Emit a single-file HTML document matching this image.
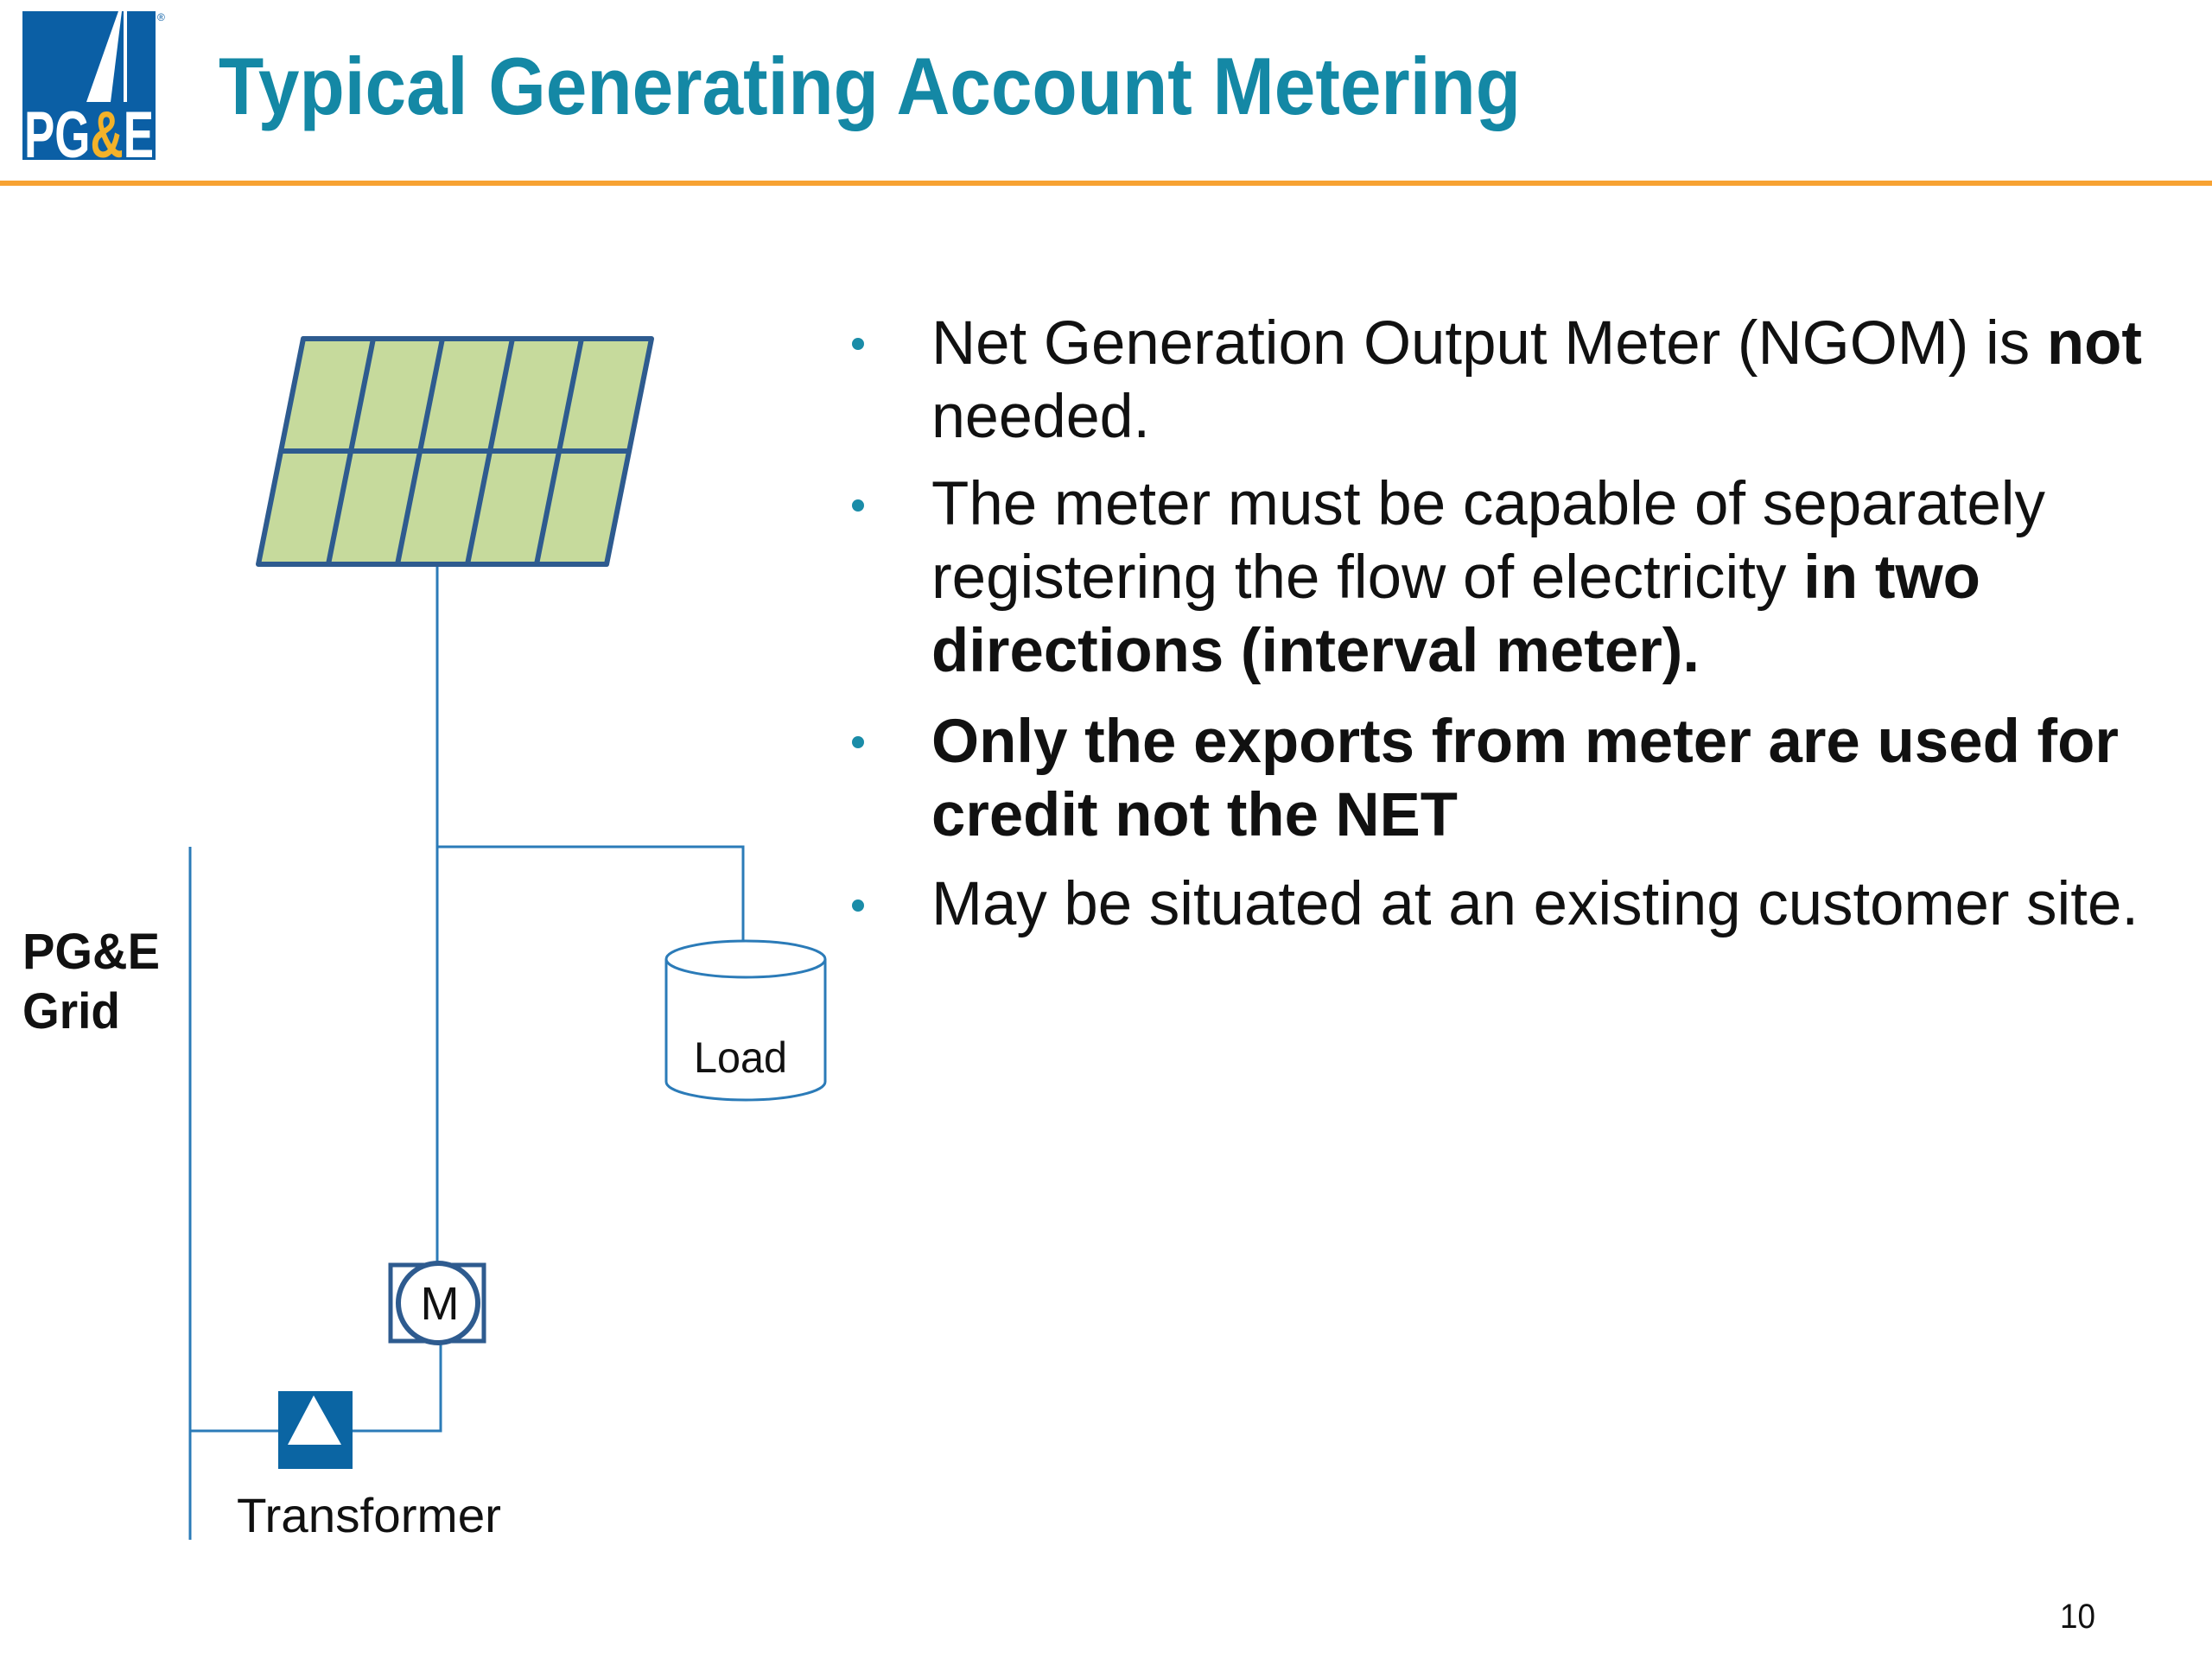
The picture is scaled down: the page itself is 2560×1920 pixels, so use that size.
<!DOCTYPE html>
<html><head><meta charset="utf-8"><style>
html,body{margin:0;padding:0;background:#fff;}
svg{display:block;}
</style></head><body>
<svg width="2560" height="1920" viewBox="0 0 2560 1920" xmlns="http://www.w3.org/2000/svg" font-family="'Liberation Sans', Arial, sans-serif">
<!-- Logo -->
<rect x="26" y="13" width="154" height="172" fill="#0b5fa5"/>
<polygon points="137,13 141,13 128,118 100,118" fill="#fff"/>
<rect x="143" y="13" width="4" height="172" fill="#fff"/>
<rect x="26" y="118" width="154" height="67" fill="#0b5fa5"/>
<text x="28" y="182" font-size="76" font-weight="bold" fill="#fff" textLength="150" lengthAdjust="spacingAndGlyphs">PG<tspan fill="#f3b229">&amp;</tspan>E</text>
<text x="182" y="24" font-size="12" fill="#0b5fa5">®</text>
<!-- Title -->
<text x="253" y="132" font-size="94" font-weight="bold" fill="#1488a5" textLength="1507" lengthAdjust="spacingAndGlyphs">Typical Generating Account Metering</text>
<rect x="0" y="209" width="2560" height="6" fill="#f7a232"/>

<!-- Wires -->
<g stroke="#2b7bb8" stroke-width="3" fill="none">
<line x1="506" y1="653" x2="506" y2="1462"/>
<polyline points="506,980 860,980 860,1089"/>
<line x1="220" y1="980" x2="220" y2="1782"/>
<polyline points="510,1554 510,1656 408,1656"/>
<line x1="220" y1="1656" x2="322" y2="1656"/>
</g>

<!-- Solar panel -->
<g stroke="#2e5b8f" stroke-width="6" fill="#c6da9c" stroke-linejoin="round">
<polygon points="351,392 754,392 702,653 299,653"/>
<line x1="325" y1="522" x2="728" y2="522"/>
<line x1="432" y1="392" x2="380" y2="653"/>
<line x1="512" y1="392" x2="460" y2="653"/>
<line x1="593" y1="392" x2="541" y2="653"/>
<line x1="673" y1="392" x2="621" y2="653"/>
</g>

<!-- Load cylinder -->
<g stroke="#2b7bb8" stroke-width="3" fill="#fff">
<path d="M771,1110 L771,1252 A92,21 0 0 0 955,1252 L955,1110"/>
<ellipse cx="863" cy="1110" rx="92" ry="21"/>
</g>
<text x="803" y="1241" font-size="50" fill="#111" textLength="108" lengthAdjust="spacingAndGlyphs">Load</text>

<!-- Meter -->
<rect x="452" y="1464" width="108" height="88" fill="#fff" stroke="#2e5b8f" stroke-width="5"/>
<circle cx="507" cy="1508" r="46" fill="#fff" stroke="#2e5b8f" stroke-width="6"/>
<text x="509" y="1527" font-size="54" fill="#111" text-anchor="middle">M</text>

<!-- Transformer -->
<rect x="322" y="1610" width="86" height="90" fill="#0b65a3"/>
<polygon points="363,1615 395,1672 333,1672" fill="#fff"/>
<text x="274" y="1773" font-size="56" fill="#111" textLength="306" lengthAdjust="spacingAndGlyphs">Transformer</text>

<!-- Grid label -->
<text x="26" y="1121" font-size="58" font-weight="bold" fill="#111" textLength="159" lengthAdjust="spacingAndGlyphs">PG&amp;E</text>
<text x="26" y="1190" font-size="58" font-weight="bold" fill="#111" textLength="113" lengthAdjust="spacingAndGlyphs">Grid</text>

<!-- Bullets -->
<g fill="#1a8ca8">
<circle cx="993" cy="398" r="7"/>
<circle cx="993" cy="585" r="7"/>
<circle cx="993" cy="859" r="7"/>
<circle cx="993" cy="1048" r="7"/>
</g>
<g font-size="71" fill="#111">
<text x="1078" y="421" textLength="1401" lengthAdjust="spacingAndGlyphs">Net Generation Output Meter (NGOM) is <tspan font-weight="bold">not</tspan></text>
<text x="1078" y="506" textLength="253" lengthAdjust="spacingAndGlyphs">needed.</text>
<text x="1078" y="607" textLength="1289" lengthAdjust="spacingAndGlyphs">The meter must be capable of separately</text>
<text x="1078" y="692" textLength="1214" lengthAdjust="spacingAndGlyphs">registering the flow of electricity <tspan font-weight="bold">in two</tspan></text>
<text x="1078" y="777" font-weight="bold" textLength="889" lengthAdjust="spacingAndGlyphs">directions (interval meter).</text>
<text x="1078" y="882" font-weight="bold" textLength="1374" lengthAdjust="spacingAndGlyphs">Only the exports from meter are used for</text>
<text x="1078" y="967" font-weight="bold" textLength="609" lengthAdjust="spacingAndGlyphs">credit not the NET</text>
<text x="1078" y="1070" textLength="1397" lengthAdjust="spacingAndGlyphs">May be situated at an existing customer site.</text>
</g>

<text x="2384" y="1884" font-size="40" fill="#111" textLength="41" lengthAdjust="spacingAndGlyphs">10</text>
</svg>
</body></html>
